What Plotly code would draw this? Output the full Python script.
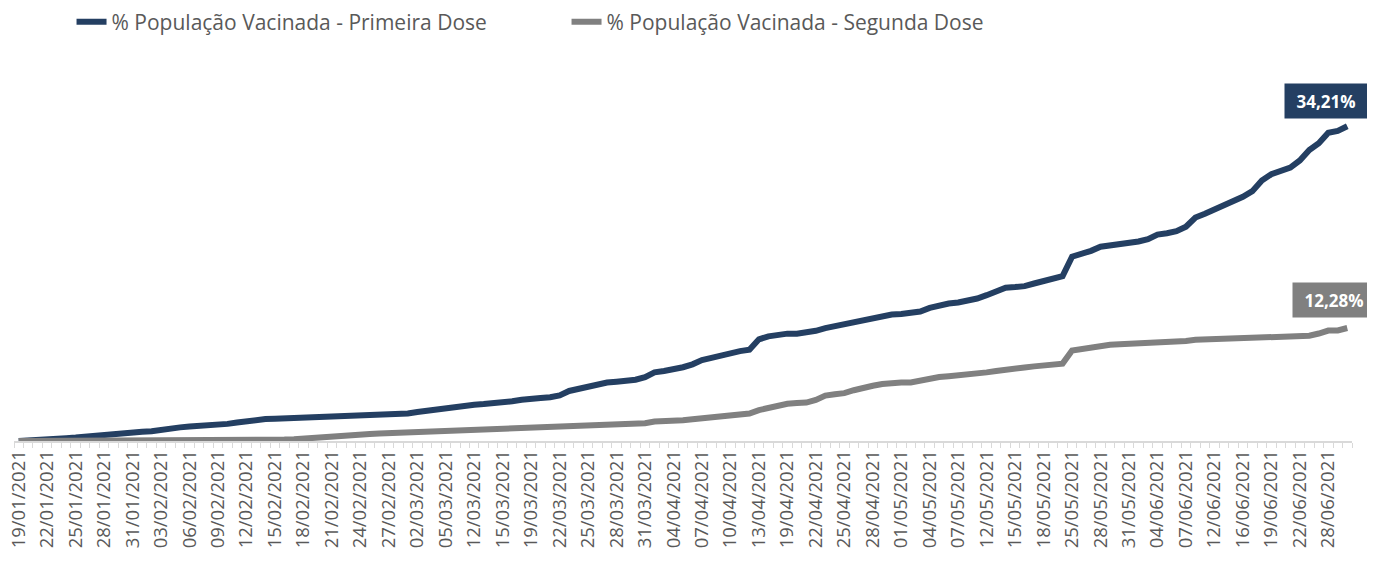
import plotly.graph_objects as go

dates = [
    "19/01/2021", "20/01/2021", "21/01/2021", "22/01/2021", "23/01/2021", "24/01/2021",
    "25/01/2021", "26/01/2021", "27/01/2021", "28/01/2021", "29/01/2021", "30/01/2021",
    "31/01/2021", "01/02/2021", "02/02/2021", "03/02/2021", "04/02/2021", "05/02/2021",
    "06/02/2021", "07/02/2021", "08/02/2021", "09/02/2021", "10/02/2021", "11/02/2021",
    "12/02/2021", "13/02/2021", "14/02/2021", "15/02/2021", "16/02/2021", "17/02/2021",
    "18/02/2021", "19/02/2021", "20/02/2021", "21/02/2021", "22/02/2021", "23/02/2021",
    "24/02/2021", "25/02/2021", "26/02/2021", "27/02/2021", "28/02/2021", "01/03/2021",
    "02/03/2021", "03/03/2021", "04/03/2021", "05/03/2021", "09/03/2021", "11/03/2021",
    "12/03/2021", "13/03/2021", "14/03/2021", "15/03/2021", "16/03/2021", "17/03/2021",
    "19/03/2021", "20/03/2021", "21/03/2021", "22/03/2021", "23/03/2021", "24/03/2021",
    "25/03/2021", "26/03/2021", "27/03/2021", "28/03/2021", "29/03/2021", "30/03/2021",
    "31/03/2021", "01/04/2021", "02/04/2021", "04/04/2021", "05/04/2021", "06/04/2021",
    "07/04/2021", "08/04/2021", "09/04/2021", "10/04/2021", "11/04/2021", "12/04/2021",
    "13/04/2021", "15/04/2021", "16/04/2021", "19/04/2021", "20/04/2021", "21/04/2021",
    "22/04/2021", "23/04/2021", "24/04/2021", "25/04/2021", "26/04/2021", "27/04/2021",
    "28/04/2021", "29/04/2021", "30/04/2021", "01/05/2021", "02/05/2021", "03/05/2021",
    "04/05/2021", "05/05/2021", "06/05/2021", "07/05/2021", "10/05/2021", "11/05/2021",
    "12/05/2021", "13/05/2021", "14/05/2021", "15/05/2021", "16/05/2021", "17/05/2021",
    "18/05/2021", "19/05/2021", "20/05/2021", "25/05/2021", "26/05/2021", "27/05/2021",
    "28/05/2021", "29/05/2021", "30/05/2021", "31/05/2021", "01/06/2021", "02/06/2021",
    "04/06/2021", "05/06/2021", "06/06/2021", "07/06/2021", "09/06/2021", "10/06/2021",
    "12/06/2021", "14/06/2021", "15/06/2021", "16/06/2021", "17/06/2021", "18/06/2021",
    "19/06/2021", "20/06/2021", "21/06/2021", "22/06/2021", "23/06/2021", "24/06/2021",
    "28/06/2021", "29/06/2021", "30/06/2021",
]

primeira_dose = [
    0.00, 0.03, 0.12, 0.19, 0.25, 0.31, 0.37, 0.47, 0.58, 0.69,
    0.84, 0.93, 0.97, 1.00, 1.06, 1.25, 1.39, 1.48, 1.57, 1.61,
    1.65, 1.69, 1.86, 2.01, 2.16, 2.31, 2.38, 2.42, 2.45, 2.49,
    2.52, 2.55, 2.58, 2.61, 2.64, 2.68, 2.75, 2.81, 2.88, 2.91,
    2.95, 3.00, 3.16, 3.31, 3.46, 3.60, 3.72, 3.83, 3.93, 4.01,
    4.07, 4.19, 4.32, 4.48, 4.63, 4.68, 4.76, 4.96, 5.44, 5.70,
    5.93, 6.13, 6.35, 6.45, 6.56, 6.66, 6.94, 7.46, 7.61, 7.77,
    8.02, 8.33, 8.79, 9.04, 9.31, 9.62, 9.77, 9.92, 11.05, 11.37,
    11.53, 11.67, 11.67, 11.75, 11.98, 12.27, 12.49, 12.69, 12.94, 13.20,
    13.39, 13.58, 13.75, 13.80, 13.87, 14.07, 14.47, 14.74, 14.95, 15.06,
    15.22, 15.49, 15.85, 16.26, 16.67, 16.73, 16.83, 17.12, 17.39, 17.67,
    17.92, 20.03, 20.30, 20.67, 21.12, 21.23, 21.30, 21.47, 21.68, 21.93,
    22.43, 22.58, 22.80, 23.29, 24.29, 24.70, 25.12, 25.71, 26.03, 26.55,
    27.16, 28.32, 29.00, 29.40, 29.72, 30.49, 31.63, 32.36, 33.50, 33.71,
    34.21,
]

segunda_dose = [
    0.00, 0.00, 0.00, 0.00, 0.00, 0.00, 0.00, 0.00, 0.00, 0.00,
    0.00, 0.00, 0.00, 0.00, 0.00, 0.00, 0.00, 0.00, 0.00, 0.01,
    0.02, 0.03, 0.03, 0.04, 0.04, 0.05, 0.08, 0.12, 0.15, 0.19,
    0.24, 0.38, 0.41, 0.45, 0.47, 0.54, 0.67, 0.75, 0.81, 0.85,
    0.88, 0.90, 0.96, 1.01, 1.03, 1.05, 1.09, 1.15, 1.22, 1.26,
    1.30, 1.34, 1.40, 1.48, 1.51, 1.55, 1.58, 1.65, 1.68, 1.70,
    1.72, 1.78, 1.83, 1.90, 1.90, 1.91, 1.94, 2.12, 2.12, 2.13,
    2.25, 2.37, 2.48, 2.59, 2.69, 2.77, 2.83, 2.99, 3.36, 3.58,
    3.90, 4.04, 4.12, 4.18, 4.47, 4.94, 5.09, 5.20, 5.52, 5.81,
    6.00, 6.20, 6.35, 6.35, 6.37, 6.59, 6.82, 6.95, 7.04, 7.12,
    7.20, 7.32, 7.46, 7.61, 7.79, 7.92, 8.00, 8.11, 8.22, 8.34,
    8.41, 9.83, 10.01, 10.21, 10.33, 10.45, 10.51, 10.55, 10.60, 10.65,
    10.69, 10.73, 10.78, 10.88, 11.00, 11.05, 11.09, 11.14, 11.18, 11.21,
    11.26, 11.29, 11.32, 11.35, 11.38, 11.41, 11.44, 11.68, 12.00, 12.02,
    12.28,
]

series_names = ["% População Vacinada - Primeira Dose", "% População Vacinada - Segunda Dose"]
end_labels = ["34,21%", "12,28%"]

BLUE = "#243F62"
GRAY = "#808080"
FONT = "Open Sans"

# label every third category
tick_text = [d if i % 3 == 0 else "" for i, d in enumerate(dates)]

fig = go.Figure()
fig.add_trace(go.Scatter(x=dates, y=primeira_dose, mode="lines", name=series_names[0],
                         line=dict(color=BLUE, width=6)))
fig.add_trace(go.Scatter(x=dates, y=segunda_dose, mode="lines", name=series_names[1],
                         line=dict(color=GRAY, width=6)))

fig.add_annotation(x=dates[-1], y=primeira_dose[-1], text="<b>" + end_labels[0] + "</b>",
                   showarrow=False, xshift=-21, yshift=25, bgcolor=BLUE,
                   font=dict(family=FONT, size=17, color="white"),
                   width=76, height=28, borderpad=3)
fig.add_annotation(x=dates[-1], y=segunda_dose[-1], text="<b>" + end_labels[1] + "</b>",
                   showarrow=False, xshift=-13, yshift=28, bgcolor=GRAY,
                   font=dict(family=FONT, size=17, color="white"),
                   width=76, height=28, borderpad=3)

fig.update_layout(
    width=1375, height=561,
    margin=dict(l=6, r=31, t=65, b=128, autoexpand=False),
    paper_bgcolor="white", plot_bgcolor="white",
    font=dict(family=FONT, color="#595959"),
    showlegend=True,
    legend=dict(orientation="h", x=0.043, y=1.1386, xanchor="left", yanchor="middle",
                font=dict(family=FONT, size=21, color="#595959"),
                entrywidth=450, entrywidthmode="pixels", itemwidth=30),
    hovermode=False,
)
fig.update_xaxes(
    type="category", range=[-0.5, len(dates) - 0.5], automargin=False,
    tickmode="array", tickvals=dates, ticktext=tick_text,
    tickangle=-90, tickson="boundaries",
    ticks="outside", ticklen=5, tickcolor="#D9D9D9",
    showline=True, linecolor="#D9D9D9", linewidth=1.5,
    showgrid=False, zeroline=False,
    tickfont=dict(family=FONT, size=18.5, color="#595959"),
)
fig.update_yaxes(range=[0, 40], visible=False, showgrid=False, zeroline=False, automargin=False)

fig.write_html("out.html")
